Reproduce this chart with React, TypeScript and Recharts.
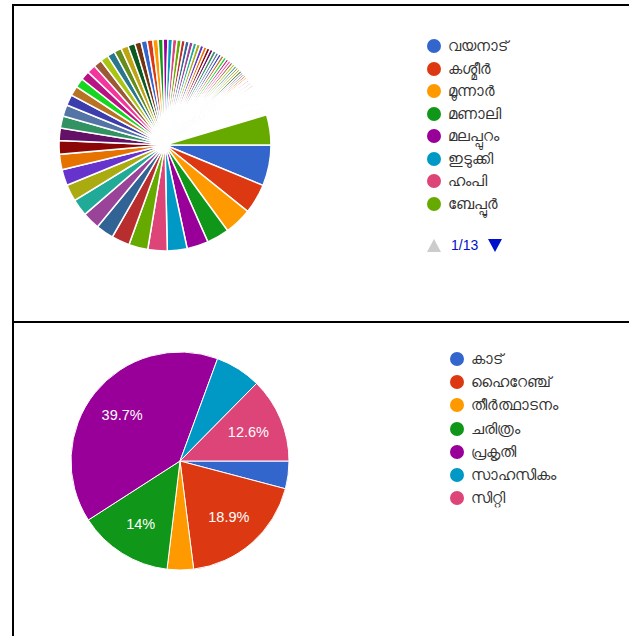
import React from 'react';
import { PieChart, Pie, Cell, Legend } from 'recharts';

// Google-style default palette, repeats after 31 colours
const PALETTE = [
  '#3366cc', '#dc3912', '#ff9900', '#109618', '#990099', '#0099c6', '#dd4477', '#66aa00',
  '#b82e2e', '#316395', '#994499', '#22aa99', '#aaaa11', '#6633cc', '#e67300', '#8b0707',
  '#651067', '#329262', '#5574a6', '#3b3eac', '#b77322', '#16d620', '#b91383', '#f4359e',
  '#9c5935', '#a9c413', '#2a778d', '#668d1c', '#bea413', '#0c5922', '#743411'
];

// top chart: places
const placeNames = [
  'വയനാട്', 'കശ്മീർ', 'മൂന്നാർ', 'മണാലി', 'മലപ്പുറം', 'ഇടുക്കി', 'ഹംപി', 'ബേപ്പൂർ',
  'കോഴിക്കോട്', 'ഗോവ', 'ആലപ്പുഴ', 'ഊട്ടി', 'കൊടൈക്കനാൽ', 'വാഗമൺ', 'കണ്ണൂർ', 'തേക്കടി',
  'കൊച്ചി', 'ലഡാക്ക്', 'അതിരപ്പിള്ളി', 'കന്യാകുമാരി', 'മൈസൂർ', 'കൂർഗ്', 'ഷിംല', 'ഡാർജിലിംഗ്',
  'ആഗ്ര', 'ഡൽഹി', 'ജയ്പൂർ', 'പൊന്മുടി', 'വർക്കല', 'കോവളം', 'ബാംഗ്ലൂർ', 'ചെന്നൈ',
  'മുംബൈ', 'തൃശ്ശൂർ', 'പാലക്കാട്', 'കാസർഗോഡ്', 'കോട്ടയം', 'പത്തനംതിട്ട', 'കൊല്ലം', 'തിരുവനന്തപുരം',
  'നെല്ലിയാമ്പതി', 'ശബരിമല', 'ഗുരുവായൂർ', 'ബേക്കൽ', 'കുമരകം', 'ജടായുപ്പാറ', 'സൈലന്റ് വാലി', 'പാലരുവി',
  'തെന്മല', 'ലക്ഷദ്വീപ്', 'ആൻഡമാൻ', 'ഹൈദരാബാദ്', 'കൊൽക്കത്ത', 'ഋഷികേശ്', 'ഹരിദ്വാർ', 'വാരാണസി',
  'അമൃത്സർ', 'ഉദയ്പൂർ', 'ജയ്സാൽമീർ', 'സിക്കിം', 'മേഘാലയ', 'ഗോകർണ', 'ചിക്കമഗളൂരു', 'യേർക്കാട്',
  'കുടജാദ്രി', 'രാമേശ്വരം', 'മധുര', 'പോണ്ടിച്ചേരി', 'തിരുപ്പതി', 'മഹാബലിപുരം', 'സ്പിതി', 'കസോൾ',
  'നൈനിറ്റാൾ', 'മസൂറി', 'ദുബായ്', 'സ്വിറ്റ്സർലൻഡ്', 'മാലിദ്വീപ്', 'നേപ്പാൾ', 'ഭൂട്ടാൻ', 'തായ്‌ലൻഡ്',
  'സിംഗപ്പൂർ', 'ബാലി', 'പാരീസ്', 'ലണ്ടൻ', 'ഇറ്റലി', 'ജപ്പാൻ', 'നോർവേ', 'ഈജിപ്ത്',
  'ഇല്ലിക്കൽകല്ല്', 'മീശപ്പുലിമല', 'ചെമ്പ്ര', 'കുറുവ ദ്വീപ്', 'ബാണാസുര സാഗർ', 'പൂക്കോട്', 'എടക്കൽ ഗുഹ', 'നിലമ്പൂർ',
  'കോടനാട്', 'അരുണാചൽ', 'മാമലക്കണ്ടം', 'ധനുഷ്കോടി', 'മറ്റുള്ളവ'
];

const placeCounts = [
  122, 89, 82, 67, 64, 59, 58, 57,
  54, 53, 52, 51, 50, 48, 46, 41,
  37, 36, 34, 32, 29, 28, 27, 26,
  25, 24, 23, 22, 22, 21, 19, 18,
  17, 16, 15, 14, 14, 13, 13, 12,
  12, 12, 11, 11, 11, 10, 10, 10,
  10, 9, 9, 9, 9, 8, 8, 8,
  8, 7, 7, 7, 7, 6, 6, 6,
  6, 5, 5, 5, 5, 5, 5, 5,
  4, 4, 4, 4, 4, 4, 4, 4,
  4, 4, 3, 3, 3, 3, 3, 3,
  3, 3, 3, 3, 3, 2, 2, 2,
  2, 2, 2, 2, 90
];

// bottom chart: trip type (percent of responses)
const tripTypes = ['കാട്', 'ഹൈറേഞ്ച്', 'തീർത്ഥാടനം', 'ചരിത്രം', 'പ്രകൃതി', 'സാഹസികം', 'സിറ്റി'];
const tripShares = [4.1, 18.9, 3.9, 14.0, 39.7, 6.8, 12.6];

const LEGEND_PAGE_SIZE = 8;
const FONT = 'Arial, "Liberation Sans", "Noto Sans", sans-serif';
const RADIAN = Math.PI / 180;

const placeData = placeNames.map((name, i) => ({ name, value: placeCounts[i] }));
const tripData = tripTypes.map((name, i) => ({ name, value: tripShares[i] }));

const LegendList = ({ names, rowHeight }: { names: string[]; rowHeight: number }) => (
  <div style={{ fontFamily: FONT, fontSize: 15, color: '#333' }}>
    {names.map((name, i) => (
      <div key={name} style={{ display: 'flex', alignItems: 'center', height: rowHeight }}>
        <span
          style={{
            display: 'inline-block',
            width: 14,
            height: 14,
            borderRadius: '50%',
            background: PALETTE[i % PALETTE.length],
            marginRight: 7,
            flexShrink: 0
          }}
        />
        <span style={{ whiteSpace: 'nowrap' }}>{name}</span>
      </div>
    ))}
  </div>
);

const PlaceLegend = () => {
  const pages = Math.ceil(placeNames.length / LEGEND_PAGE_SIZE);
  return (
    <div>
      <LegendList names={placeNames.slice(0, LEGEND_PAGE_SIZE)} rowHeight={22.5} />
      <div style={{ display: 'flex', alignItems: 'center', height: 22, marginTop: 19 }}>
        <svg width={14} height={13}>
          <polygon points="7,0 14,13 0,13" fill="#cccccc" />
        </svg>
        <span style={{ fontFamily: FONT, fontSize: 14, color: '#0011cc', margin: '0 10px 0 10px' }}>
          1/{pages}
        </span>
        <svg width={14} height={13}>
          <polygon points="0,0 14,0 7,13" fill="#0011cc" />
        </svg>
      </div>
    </div>
  );
};

const renderPercentLabel = ({ cx, cy, midAngle, outerRadius, percent }: any) => {
  if (percent < 0.1) return null;
  const r = outerRadius * 0.68;
  const x = cx + r * Math.cos(-midAngle * RADIAN);
  const y = cy + r * Math.sin(-midAngle * RADIAN);
  const text = `${parseFloat((percent * 100).toFixed(1))}%`;
  return (
    <text x={x} y={y} fill="#fff" textAnchor="middle" dominantBaseline="central"
      fontFamily={FONT} fontSize={14.5}>
      {text}
    </text>
  );
};

export default function App() {
  return (
    <div style={{ position: 'absolute', left: 0, top: 0, width: 629, height: 636, background: '#fff', overflow: 'hidden' }}>
      <div style={{ position: 'absolute', left: 14, top: 6, width: 615, height: 315 }}>
        <PieChart width={615} height={315} margin={{ top: 0, right: 0, bottom: 0, left: 0 }}>
          <Pie
            data={placeData}
            dataKey="value"
            nameKey="name"
            cx={151}
            cy={139}
            outerRadius={106}
            startAngle={0}
            endAngle={-360}
            stroke="#fff"
            strokeWidth={1.5}
            isAnimationActive={false}
          >
            {placeData.map((d, i) => (
              <Cell key={d.name} fill={PALETTE[i % PALETTE.length]} />
            ))}
          </Pie>
          <Legend
            layout="vertical"
            align="right"
            verticalAlign="top"
            content={() => <PlaceLegend />}
            wrapperStyle={{ position: 'absolute', left: 413, top: 29, width: 200 }}
          />
        </PieChart>
      </div>

      <div style={{ position: 'absolute', left: 14, top: 323, width: 615, height: 313 }}>
        <PieChart width={615} height={313} margin={{ top: 0, right: 0, bottom: 0, left: 0 }}>
          <Pie
            data={tripData}
            dataKey="value"
            nameKey="name"
            cx={166}
            cy={138}
            outerRadius={109}
            startAngle={0}
            endAngle={-360}
            stroke="#fff"
            strokeWidth={1}
            label={renderPercentLabel}
            labelLine={false}
            isAnimationActive={false}
          >
            {tripData.map((d, i) => (
              <Cell key={d.name} fill={PALETTE[i % PALETTE.length]} />
            ))}
          </Pie>
          <Legend
            layout="vertical"
            align="right"
            verticalAlign="top"
            content={() => <LegendList names={tripTypes} rowHeight={23.3} />}
            wrapperStyle={{ position: 'absolute', left: 436, top: 24, width: 180 }}
          />
        </PieChart>
      </div>

      <div style={{ position: 'absolute', left: 12, top: 4, width: 617, height: 2, background: '#000' }} />
      <div style={{ position: 'absolute', left: 12, top: 4, width: 2, height: 632, background: '#000' }} />
      <div style={{ position: 'absolute', left: 12, top: 321, width: 617, height: 2, background: '#000' }} />
    </div>
  );
}
